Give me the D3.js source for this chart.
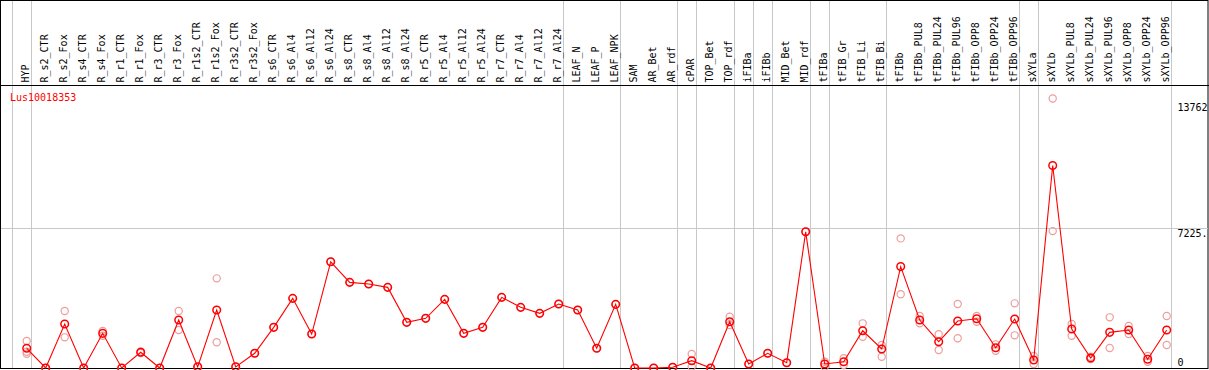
<!DOCTYPE html>
<html>
<head>
<meta charset="utf-8">
<script src="https://cdn.jsdelivr.net/npm/d3@7"></script>
<style>
html,body{margin:0;padding:0;background:#fff;}
svg{display:block;}
text{font-family:"DejaVu Sans Mono","Liberation Mono",monospace;font-size:10px;}
</style>
</head>
<body>
<svg id="chart" width="1209" height="370"></svg>
<script>
const categories = ["HYP","R_s2_CTR","R_s2_Fox","R_s4_CTR","R_s4_Fox","R_r1_CTR","R_r1_Fox","R_r3_CTR","R_r3_Fox","R_r1s2_CTR","R_r1s2_Fox","R_r3s2_CTR","R_r3s2_Fox","R_s6_CTR","R_s6_Al4","R_s6_Al12","R_s6_Al24","R_s8_CTR","R_s8_Al4","R_s8_Al12","R_s8_Al24","R_r5_CTR","R_r5_Al4","R_r5_Al12","R_r5_Al24","R_r7_CTR","R_r7_Al4","R_r7_Al12","R_r7_Al24","LEAF_N","LEAF_P","LEAF_NPK","SAM","AR_Bet","AR_rdf","cPAR","TOP_Bet","TOP_rdf","iFIBa","iFIBb","MID_Bet","MID_rdf","tFIBa","tFIB_Gr","tFIB_Li","tFIB_Bi","tFIBb","tFIBb_PUL8","tFIBb_PUL24","tFIBb_PUL96","tFIBb_OPP8","tFIBb_OPP24","tFIBb_OPP96","sXYLa","sXYLb","sXYLb_PUL8","sXYLb_PUL24","sXYLb_PUL96","sXYLb_OPP8","sXYLb_OPP24","sXYLb_OPP96"];

const meanValues = [1015,0,2266,0,1787,0,809,0,2472,60,2987,60,757,2096,3590,1751,5474,4414,4326,4156,2354,2560,3538,1787,2096,3641,3126,2817,3296,2987,1015,3281,0,0,40,376,0,2384,206,757,273,7019,206,324,1921,979,5227,2472,1354,2420,2539,1045,2523,412,10439,2008,515,1838,1957,448,1957];

const replicateValues = [[1390,840,736],[0],[2936,1581],[0],[1905,1660],[0],[850,770],[0],[2936,1957],[60],[4620,1324],[60],[757],[2096],[3590],[1751],[5474],[4414],[4326],[4156],[2354],[2560],[3538],[1787],[2096],[3641],[3126],[2817],[3296],[2987],[1015],[3281],[0],[0],[40],[721,60],[0],[2642,2214],[206],[757],[273],[7019],[324,67],[500,150],[2302,1612],[1185,582],[6680,3800],[2678,2302],[1736,927],[3296,1530],[2678,2384],[1220,891],[3332,1684],[618,206],[13890,7055],[2266,1663],[582,463],[2611,1030],[2163,1751],[618,324],[2678,1185]];

const separatorsAfter = ["HYP","R_r7_Al24","LEAF_NPK","AR_rdf","cPAR","TOP_rdf","iFIBa","iFIBb","MID_rdf","tFIBa","tFIB_Bi","tFIBb_OPP96","sXYLa","sXYLb_OPP96"];

const yTickValues = [13762, 7225.5, 0];
const yTickLabels = ["13762", "7225.", "0"];
const geneName = "Lus10018353";

const svg = d3.select("#chart");

const x = d3.scalePoint().domain(categories).range([26.7, 1166.7]);
const step = x.step();
const y = d3.scaleLinear().domain([0, 13762]).range([368, 101]);

// frame
svg.append("rect").attr("x",0.5).attr("y",0.5).attr("width",1207.5).attr("height",368)
  .attr("fill","none").attr("stroke","#000").attr("stroke-width",1);

// gridline for mid tick
const gy = Math.round(y(yTickValues[1])) + 0.5;
svg.append("line").attr("x1",1).attr("x2",1208).attr("y1",gy).attr("y2",gy)
  .attr("stroke","#c8c8c8").attr("stroke-width",1);

// separators
const sepX = [x(categories[0]) - step + 4].concat(separatorsAfter.map(c => x(c) + 4));
svg.selectAll("line.sep").data(sepX).enter().append("line")
  .attr("class","sep")
  .attr("x1", d => Math.round(d)+0.5).attr("x2", d => Math.round(d)+0.5)
  .attr("y1", 1).attr("y2", 368)
  .attr("stroke","#c8c8c8").attr("stroke-width",1);

// header separator line
svg.append("line").attr("x1",0).attr("x2",1209).attr("y1",85.5).attr("y2",85.5)
  .attr("stroke","#000").attr("stroke-width",1.2);

// column labels
svg.selectAll("text.col").data(categories).enter().append("text")
  .attr("class","col")
  .attr("transform", d => `translate(${x(d)+2.3},82.5) rotate(-90)`)
  .attr("text-anchor","start")
  .attr("fill","#000")
  .text(d => d);

// y tick labels
svg.append("g").selectAll("text").data(yTickValues).enter().append("text")
  .attr("x",1177.5)
  .attr("y",(d) => Math.min(y(d)+9.5, 366))
  .attr("fill","#000")
  .text((d,i) => yTickLabels[i]);

// gene name
svg.append("text").attr("x",10).attr("y",101).attr("fill","#ff0000").text(geneName);

// replicate circles
const reps = [];
categories.forEach((c,i) => replicateValues[i].forEach(v => reps.push({c, v})));
svg.append("g").selectAll("circle").data(reps).enter().append("circle")
  .attr("cx", d => x(d.c)).attr("cy", d => y(d.v)).attr("r",3.6)
  .attr("fill","none").attr("stroke","#ee9c9c").attr("stroke-width",1.2);

// mean line
const line = d3.line().x((d,i) => x(categories[i])).y(d => y(d));
svg.append("path").datum(meanValues).attr("d", line)
  .attr("fill","none").attr("stroke","#ff0000").attr("stroke-width",1.1);

// mean circles
svg.append("g").selectAll("circle").data(meanValues).enter().append("circle")
  .attr("cx",(d,i) => x(categories[i])).attr("cy", d => y(d)).attr("r",3.8)
  .attr("fill","none").attr("stroke","#ff0000").attr("stroke-width",1.5);
</script>
</body>
</html>
